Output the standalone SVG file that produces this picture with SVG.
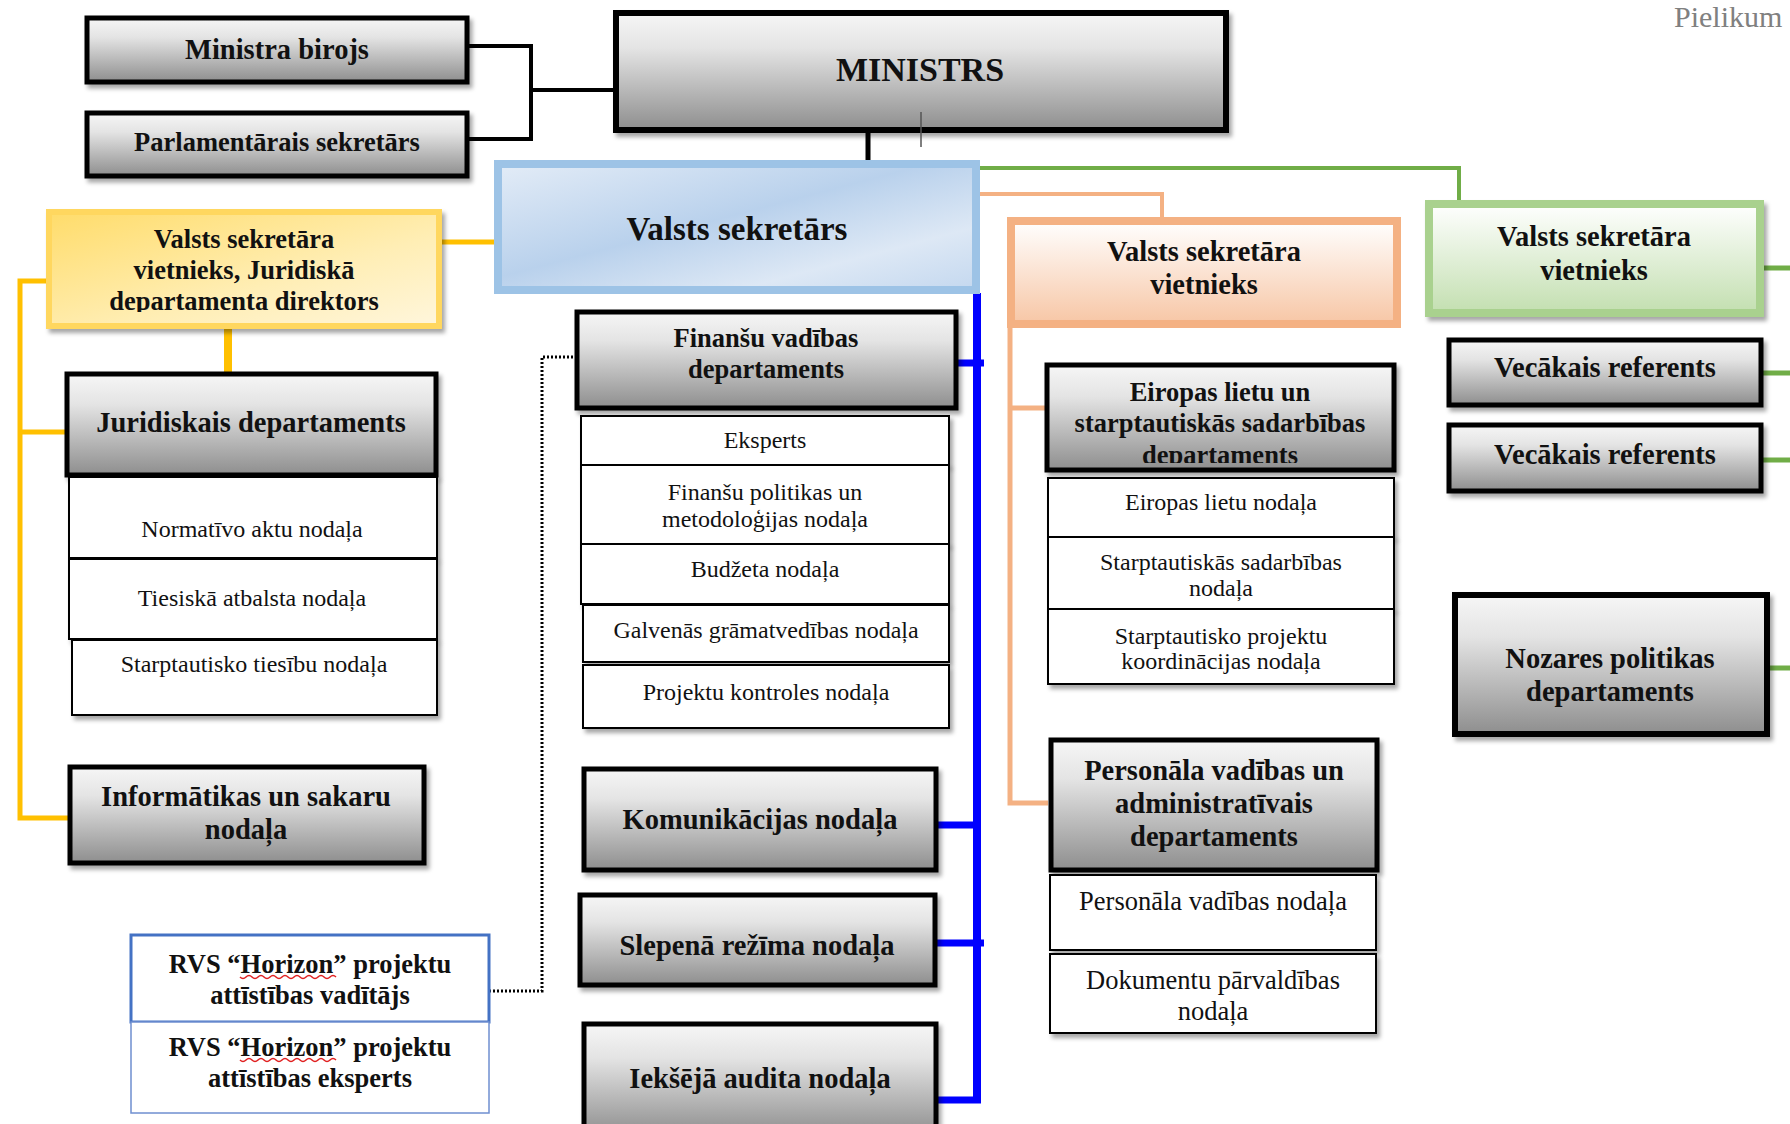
<svg xmlns="http://www.w3.org/2000/svg" width="1790" height="1124" viewBox="0 0 1790 1124">
<defs>
<linearGradient id="gray" x1="0" y1="0" x2="0" y2="1">
<stop offset="0" stop-color="#f6f6f6"/><stop offset="0.3" stop-color="#e4e4e4"/><stop offset="1" stop-color="#8e8e8e"/>
</linearGradient>
<linearGradient id="blueG" x1="0" y1="0" x2="1" y2="1">
<stop offset="0" stop-color="#e3ecf7"/><stop offset="0.45" stop-color="#b9d1ec"/><stop offset="0.75" stop-color="#dde8f5"/><stop offset="1" stop-color="#c4d8ef"/>
</linearGradient>
<linearGradient id="yelG" x1="0" y1="0" x2="1" y2="1">
<stop offset="0" stop-color="#ffdc6a"/><stop offset="0.6" stop-color="#ffeeb5"/><stop offset="1" stop-color="#fff6dc"/>
</linearGradient>
<linearGradient id="orgG" x1="0" y1="0" x2="0" y2="1">
<stop offset="0" stop-color="#ffffff"/><stop offset="1" stop-color="#f7c6a5"/>
</linearGradient>
<linearGradient id="grnG" x1="0" y1="0" x2="0" y2="1">
<stop offset="0" stop-color="#ffffff"/><stop offset="1" stop-color="#c3dfb0"/>
</linearGradient>
<filter id="sh" x="-5%" y="-10%" width="115%" height="130%">
<feDropShadow dx="3" dy="4" stdDeviation="2" flood-color="#000" flood-opacity="0.35"/>
</filter>
<clipPath id="clipY"><rect x="52" y="215" width="384" height="97"/></clipPath>
<clipPath id="clipE"><rect x="1049" y="367" width="343" height="96"/></clipPath>
<style>
.hb{font-family:"Liberation Serif","Times New Roman",serif;font-weight:bold;font-size:28.5px;fill:#111;text-anchor:middle}
.sb{font-family:"Liberation Serif","Times New Roman",serif;font-size:24px;fill:#111;text-anchor:middle}
.f26{font-size:26.5px}
.gbox{fill:url(#gray);stroke:#000;stroke-width:5;filter:url(#sh)}
.sub{fill:#fff;stroke:#000;stroke-width:2;filter:url(#sh)}
.blk{fill:none;stroke:#000;stroke-width:4}
.blu{fill:none;stroke:#0000ff;stroke-width:7}
.yel{fill:none;stroke:#ffc000;stroke-width:5}
.org{fill:none;stroke:#f4b183;stroke-width:5}
.grn{fill:none;stroke:#70ad47;stroke-width:4}
.dot{fill:none;stroke:#000;stroke-width:3;stroke-dasharray:2 2}
.wav{fill:none;stroke:#e02020;stroke-width:1.5}
</style>
</defs>
<rect width="1790" height="1124" fill="#fff"/>

<g id="connectors">
<path class="blk" d="M468,46 H531 V139 H468 M531,90 H615"/>
<path d="M868,130 V163" fill="none" stroke="#000" stroke-width="5"/>
<path class="yel" d="M442,242 H494"/>
<path d="M228,329 V372" fill="none" stroke="#ffc000" stroke-width="8"/>
<path class="yel" d="M46,281 H20 V818 H68 M20,432 H65"/>
<path class="grn" d="M979,168 H1459 V201"/>
<path class="grn" style="stroke-width:5" d="M1764,268 H1790 M1761,373 H1790 M1761,460 H1790 M1768,668 H1790"/>
<path class="org" style="stroke-width:4" d="M979,194 H1162 V218"/>
<path class="org" d="M1010,328 V803 H1048 M1010,408 H1045"/>
<path class="blu" style="stroke-width:8" d="M977,293 V1103"/>
<path class="blu" d="M957,363 H984 M938,825 H977 M934,943 H984 M930,1100 H981"/>
<path class="dot" d="M489,991 H542 V357 H577"/>
</g>

<g id="ministra_birojs">
<rect class="gbox" x="87" y="18" width="380" height="64"/>
<text class="hb" x="277" y="59">Ministra birojs</text>
</g>
<g id="parlamentarais_sekretars">
<rect class="gbox" x="87" y="113" width="380" height="63"/>
<text class="hb f26" x="277" y="151">Parlamentārais sekretārs</text>
</g>
<g id="ministrs">
<rect class="gbox" x="616" y="13" width="610" height="117" style="stroke-width:6"/>
<text class="hb" x="920" y="81" style="font-size:34px">MINISTRS</text>
<line x1="921" y1="112" x2="921" y2="147" stroke="#555" stroke-width="1.5"/>
</g>
<g id="valsts_sekretars">
<rect x="498" y="164" width="478" height="126" fill="url(#blueG)" stroke="#9dc3e6" stroke-width="8"/>
<text class="hb" x="737" y="240" style="font-size:33px">Valsts sekretārs</text>
</g>

<g id="vietnieks_juridiska">
<rect x="49" y="212" width="390" height="114" fill="url(#yelG)" stroke="#ffd75e" stroke-width="6" filter="url(#sh)"/>
<g clip-path="url(#clipY)">
<text class="hb f26" x="244" y="248">Valsts sekretāra</text>
<text class="hb f26" x="244" y="279">vietnieks, Juridiskā</text>
<text class="hb f26" x="244" y="310">departamenta direktors</text>
</g>
</g>
<g id="juridiskais_departaments">
<rect class="gbox" x="67" y="374" width="369" height="101"/>
<text class="hb" x="251" y="432">Juridiskais departaments</text>
</g>
<g id="normativo_aktu">
<rect class="sub" x="69" y="477" width="368" height="81"/>
<text class="sb" x="252" y="537">Normatīvo aktu nodaļa</text>
</g>
<g id="tiesiska_atbalsta">
<rect class="sub" x="69" y="559" width="368" height="80"/>
<text class="sb" x="252" y="606">Tiesiskā atbalsta nodaļa</text>
</g>
<g id="starptautisko_tiesibu">
<rect class="sub" x="72" y="640" width="365" height="75"/>
<text class="sb" x="254" y="672">Starptautisko tiesību nodaļa</text>
</g>
<g id="informatikas">
<rect class="gbox" x="70" y="767" width="354" height="96"/>
<text class="hb" x="246" y="806">Informātikas un sakaru</text>
<text class="hb" x="246" y="839">nodaļa</text>
</g>

<g id="rvs_vaditajs">
<rect x="131" y="935" width="358" height="87" fill="#fff" stroke="#4472c4" stroke-width="3"/>
<text class="hb f26" x="310" y="973">RVS “Horizon” projektu</text>
<text class="hb f26" x="310" y="1004">attīstības vadītājs</text>
<path class="wav" d="M240,977 q3,3 6,0 t6,0 t6,0 t6,0 t6,0 t6,0 t6,0 t6,0 t6,0 t6,0 t6,0 t6,0 t6,0 t6,0 t6,0 t6,0"/>
</g>
<g id="rvs_eksperts">
<rect x="131" y="1022" width="358" height="91" fill="#fff" stroke="#6f8fd0" stroke-width="1.5"/>
<text class="hb f26" x="310" y="1056">RVS “Horizon” projektu</text>
<text class="hb f26" x="310" y="1087">attīstības eksperts</text>
<path class="wav" d="M240,1060 q3,3 6,0 t6,0 t6,0 t6,0 t6,0 t6,0 t6,0 t6,0 t6,0 t6,0 t6,0 t6,0 t6,0 t6,0 t6,0 t6,0"/>
</g>

<g id="finansu_departaments">
<rect class="gbox" x="577" y="312" width="379" height="96"/>
<text class="hb f26" x="766" y="347">Finanšu vadības</text>
<text class="hb f26" x="766" y="378">departaments</text>
</g>
<g id="eksperts">
<rect class="sub" x="581" y="416" width="368" height="49"/>
<text class="sb" x="765" y="448">Eksperts</text>
</g>
<g id="finansu_politikas">
<rect class="sub" x="581" y="465" width="368" height="79"/>
<text class="sb" x="765" y="500">Finanšu politikas un</text>
<text class="sb" x="765" y="527">metodoloģijas nodaļa</text>
</g>
<g id="budzeta">
<rect class="sub" x="581" y="544" width="368" height="60"/>
<text class="sb" x="765" y="577">Budžeta nodaļa</text>
</g>
<g id="galvenas_gramatvedibas">
<rect class="sub" x="583" y="605" width="366" height="57"/>
<text class="sb" x="766" y="638">Galvenās grāmatvedības nodaļa</text>
</g>
<g id="projektu_kontroles">
<rect class="sub" x="583" y="665" width="366" height="63"/>
<text class="sb" x="766" y="700">Projektu kontroles nodaļa</text>
</g>
<g id="komunikacijas">
<rect class="gbox" x="584" y="769" width="352" height="101"/>
<text class="hb" x="760" y="829">Komunikācijas nodaļa</text>
</g>
<g id="slepena_rezima">
<rect class="gbox" x="580" y="895" width="355" height="90"/>
<text class="hb" x="757" y="955">Slepenā režīma nodaļa</text>
</g>
<g id="ieksejā_audita">
<rect class="gbox" x="584" y="1024" width="352" height="112"/>
<text class="hb" x="760" y="1088">Iekšējā audita nodaļa</text>
</g>

<g id="vietnieks_orange">
<rect x="1011" y="221" width="386" height="103" fill="url(#orgG)" stroke="#f4b183" stroke-width="8"/>
<text class="hb" x="1204" y="261">Valsts sekretāra</text>
<text class="hb" x="1204" y="294">vietnieks</text>
</g>
<g id="eiropas_departaments">
<rect class="gbox" x="1047" y="365" width="347" height="105"/>
<g clip-path="url(#clipE)">
<text class="hb f26" x="1220" y="401">Eiropas lietu un</text>
<text class="hb f26" x="1220" y="432">starptautiskās sadarbības</text>
<text class="hb f26" x="1220" y="464">departaments</text>
</g>
</g>
<g id="eiropas_lietu">
<rect class="sub" x="1048" y="478" width="346" height="59"/>
<text class="sb" x="1221" y="510">Eiropas lietu nodaļa</text>
</g>
<g id="starptautiskas_sadarbibas">
<rect class="sub" x="1048" y="537" width="346" height="72"/>
<text class="sb" x="1221" y="570">Starptautiskās sadarbības</text>
<text class="sb" x="1221" y="596">nodaļa</text>
</g>
<g id="starptautisko_projektu">
<rect class="sub" x="1048" y="609" width="346" height="75"/>
<text class="sb" x="1221" y="644">Starptautisko projektu</text>
<text class="sb" x="1221" y="669">koordinācijas nodaļa</text>
</g>
<g id="personala_departaments">
<rect class="gbox" x="1051" y="740" width="326" height="130"/>
<text class="hb" x="1214" y="780">Personāla vadības un</text>
<text class="hb" x="1214" y="813">administratīvais</text>
<text class="hb" x="1214" y="846">departaments</text>
</g>
<g id="personala_nodala">
<rect class="sub" x="1050" y="875" width="326" height="75"/>
<text class="sb f26" x="1213" y="910">Personāla vadības nodaļa</text>
</g>
<g id="dokumentu_parvaldibas">
<rect class="sub" x="1050" y="954" width="326" height="79"/>
<text class="sb f26" x="1213" y="989">Dokumentu pārvaldības</text>
<text class="sb f26" x="1213" y="1020">nodaļa</text>
</g>

<g id="vietnieks_green">
<rect x="1429" y="204" width="331" height="109" fill="url(#grnG)" stroke="#a9d18e" stroke-width="8" filter="url(#sh)"/>
<text class="hb" x="1594" y="246">Valsts sekretāra</text>
<text class="hb" x="1594" y="280">vietnieks</text>
</g>
<g id="vecakais_referents_1">
<rect class="gbox" x="1449" y="340" width="312" height="65"/>
<text class="hb" x="1605" y="377">Vecākais referents</text>
</g>
<g id="vecakais_referents_2">
<rect class="gbox" x="1449" y="425" width="312" height="66"/>
<text class="hb" x="1605" y="464">Vecākais referents</text>
</g>
<g id="nozares_politikas">
<rect class="gbox" x="1455" y="595" width="312" height="139" style="stroke-width:6"/>
<text class="hb" x="1610" y="668">Nozares politikas</text>
<text class="hb" x="1610" y="701">departaments</text>
</g>

<text x="1674" y="27" style="font-family:'Liberation Serif','Times New Roman',serif;font-size:30px;fill:#808080">Pielikum</text>
</svg>
